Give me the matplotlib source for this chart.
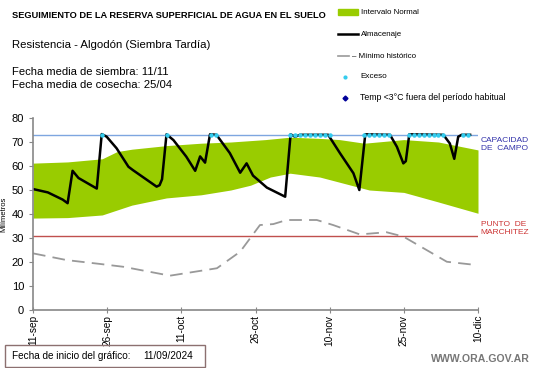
import matplotlib
matplotlib.use('Agg')
import matplotlib.pyplot as plt
from matplotlib.patches import Rectangle
from matplotlib.lines import Line2D
import numpy as np

plt.rcParams['font.family'] = ['Liberation Sans', 'DejaVu Sans']

# dias desde 11-sep
tick_days = [0, 15, 30, 45, 60, 75, 90]
tick_labels = ['11-sep', '26-sep', '11-oct', '26-oct', '10-nov', '25-nov', '10-dic']

# intervalo normal (banda verde)
sup_dias = [0, 7, 14, 17, 20, 27, 34, 40, 47, 52, 58, 62, 67, 75, 82, 90]
sup_vals = [61.2, 61.7, 63, 66, 67, 68.5, 69.5, 70, 71, 72, 71.5, 71, 69.5, 71, 70, 66.7]
inf_dias = [0, 7, 14, 20, 27, 34, 40, 44, 48, 52, 58, 68, 75, 82, 90]
inf_vals = [38.3, 38.5, 39.6, 43.7, 46.7, 48, 50, 52, 55.4, 57, 55.4, 50, 49, 45, 40.3]

# almacenaje
alm_dias = [0, 3, 6, 7, 8, 9.2, 12.9, 13.9, 14.9, 16.9, 19.3, 20.2, 25, 25.6, 26.1, 27,
            28.4, 31, 32.8, 33.8, 34.8, 35.8, 37.1, 39.8, 41.9, 43.2, 44.5, 47.3, 51,
            52.1, 53, 54, 59.7, 62.1, 64.8, 66, 67.2, 72.2, 73.6, 74.9, 75.4, 76.1, 83,
            84.3, 85.2, 86, 86.7, 88.4]
alm_vals = [50.4, 49, 46, 44.5, 58, 55, 50.6, 73.3, 72.2, 67.4, 59.7, 58.3, 51.4, 52, 54.5, 73.2,
            70.8, 63.9, 58, 64, 61.4, 73.2, 73, 65.4, 57.2, 61.1, 56, 51, 47.2,
            73.2, 72.2, 73, 73, 65.3, 57, 50, 73.2, 73, 68, 61.1, 62, 73.2, 73,
            69.4, 63, 72.2, 73, 73]

# minimo historico
min_dias = [0, 6.8, 13.5, 18.3, 27.7, 37.2, 41.9, 45.9, 48.6, 51.3, 57.4, 60.7, 66.1,
            71.5, 74.9, 83.7, 89.4]
min_vals = [23.6, 20.8, 19.2, 18, 14.3, 17.4, 24.3, 35.4, 35.8, 37.5, 37.5, 35.4, 31.5,
            32.4, 30.6, 20.1, 18.8]

# exceso
exc_dias = [14, 27, 36, 37, 52, 53, 54, 55, 56, 57, 58, 59, 60, 67, 68, 69, 70, 71, 72,
            76, 77, 78, 79, 80, 81, 82, 83, 87, 88]
capacidad = 73
marchitez = 31

fig = plt.figure(figsize=(5.41, 3.68), dpi=100)
ax = fig.add_axes([33 / 541, 1 - 310 / 368, 445 / 541, 192 / 368])

grid = np.union1d(sup_dias, inf_dias)
ax.fill_between(grid, np.interp(grid, inf_dias, inf_vals), np.interp(grid, sup_dias, sup_vals),
                color='#99cc00', lw=0)
ax.axhline(capacidad, color='#7ea6e0', lw=1)
ax.axhline(marchitez, color='#c0504d', lw=1)
ax.plot(min_dias, min_vals, color='#999999', lw=1.3, dashes=(7, 4))
ax.plot(alm_dias, alm_vals, color='black', lw=1.8)
ax.scatter(exc_dias, [capacidad] * len(exc_dias), s=5, color='#33ccee', zorder=5)

ax.set_xlim(0, 90)
ax.set_ylim(0, 80)
ax.set_yticks(range(0, 81, 10))
ax.set_xticks(tick_days)
ax.set_xticklabels(tick_labels, rotation=90)
ax.tick_params(labelsize=8, color='#888888', length=3)
ax.tick_params(axis='x', direction='inout', length=5, labelsize=7.3, pad=1)
for s in ['top', 'right']:
    ax.spines[s].set_visible(False)
for s in ['left', 'bottom']:
    ax.spines[s].set_color('#888888')
    ax.spines[s].set_linewidth(1.2)
ax.set_ylabel('Milímetros', fontsize=5.5, labelpad=3)

ax.text(1.006, 72, 'CAPACIDAD\nDE  CAMPO', transform=ax.get_yaxis_transform(), fontsize=6,
        color='#3333aa', va='top', linespacing=1.1)
ax.text(1.006, 37, 'PUNTO  DE\nMARCHITEZ', transform=ax.get_yaxis_transform(), fontsize=6,
        color='#cc3333', va='top', linespacing=1.1)

fig.text(12 / 541, 1 - 15 / 368, 'SEGUIMIENTO DE LA RESERVA SUPERFICIAL DE AGUA EN EL SUELO',
         fontsize=6.7, fontweight='bold', va='center')
fig.text(12 / 541, 1 - 45 / 368, 'Resistencia - Algodón (Siembra Tardía)', fontsize=8.2, va='center')
fig.text(12 / 541, 1 - 72 / 368, 'Fecha media de siembra: 11/11', fontsize=8.1, va='center')
fig.text(12 / 541, 1 - 85 / 368, 'Fecha media de cosecha: 25/04', fontsize=8.1, va='center')

# leyenda
lx0, lx1, tx = 338 / 541, 358 / 541, 361 / 541
y = 1 - 12 / 368
fig.patches.append(Rectangle((lx0, y - 3 / 368), lx1 - lx0, 6 / 368, transform=fig.transFigure,
                             color='#99cc00'))
fig.text(tx, y, 'Intervalo Normal', fontsize=5.7, va='center')
y = 1 - 34 / 368
fig.lines.append(Line2D([lx0, lx1], [y, y], transform=fig.transFigure, color='black', lw=1.8))
fig.text(tx, y, 'Almacenaje', fontsize=5.7, va='center')
y = 1 - 56 / 368
fig.lines.append(Line2D([lx0, 349 / 541], [y, y], transform=fig.transFigure, color='#999999', lw=1.2))
fig.text(352 / 541, y, '– Mínimo histórico', fontsize=5.7, va='center')
y = 1 - 77 / 368
fig.lines.append(Line2D([345 / 541], [y], transform=fig.transFigure, marker='o', ms=2,
                        color='#33ccee', lw=0))
fig.text(360 / 541, y, 'Exceso', fontsize=5.9, va='center')
y = 1 - 98 / 368
fig.lines.append(Line2D([345 / 541], [y], transform=fig.transFigure, marker='D', ms=2.5,
                        color='#000099', lw=0))
fig.text(360 / 541, y, 'Temp <3°C fuera del período habitual', fontsize=6.3, va='center')

# recuadro de fecha de inicio
fig.patches.append(Rectangle((5 / 541, 1 - 367 / 368), 200 / 541, 22 / 368, transform=fig.transFigure,
                             fill=False, edgecolor='#8c7070', lw=1))
fig.text(12 / 541, 1 - 356 / 368, 'Fecha de inicio del gráfico:', fontsize=7.2, va='center')
fig.text(143 / 541, 1 - 356 / 368, '11/09/2024', fontsize=7.2, va='center')
fig.text(530 / 541, 1 - 359 / 368, 'WWW.ORA.GOV.AR', fontsize=7.6, color='#777777',
         fontweight='bold', ha='right', va='center')

fig.savefig('out.png', dpi=100)
